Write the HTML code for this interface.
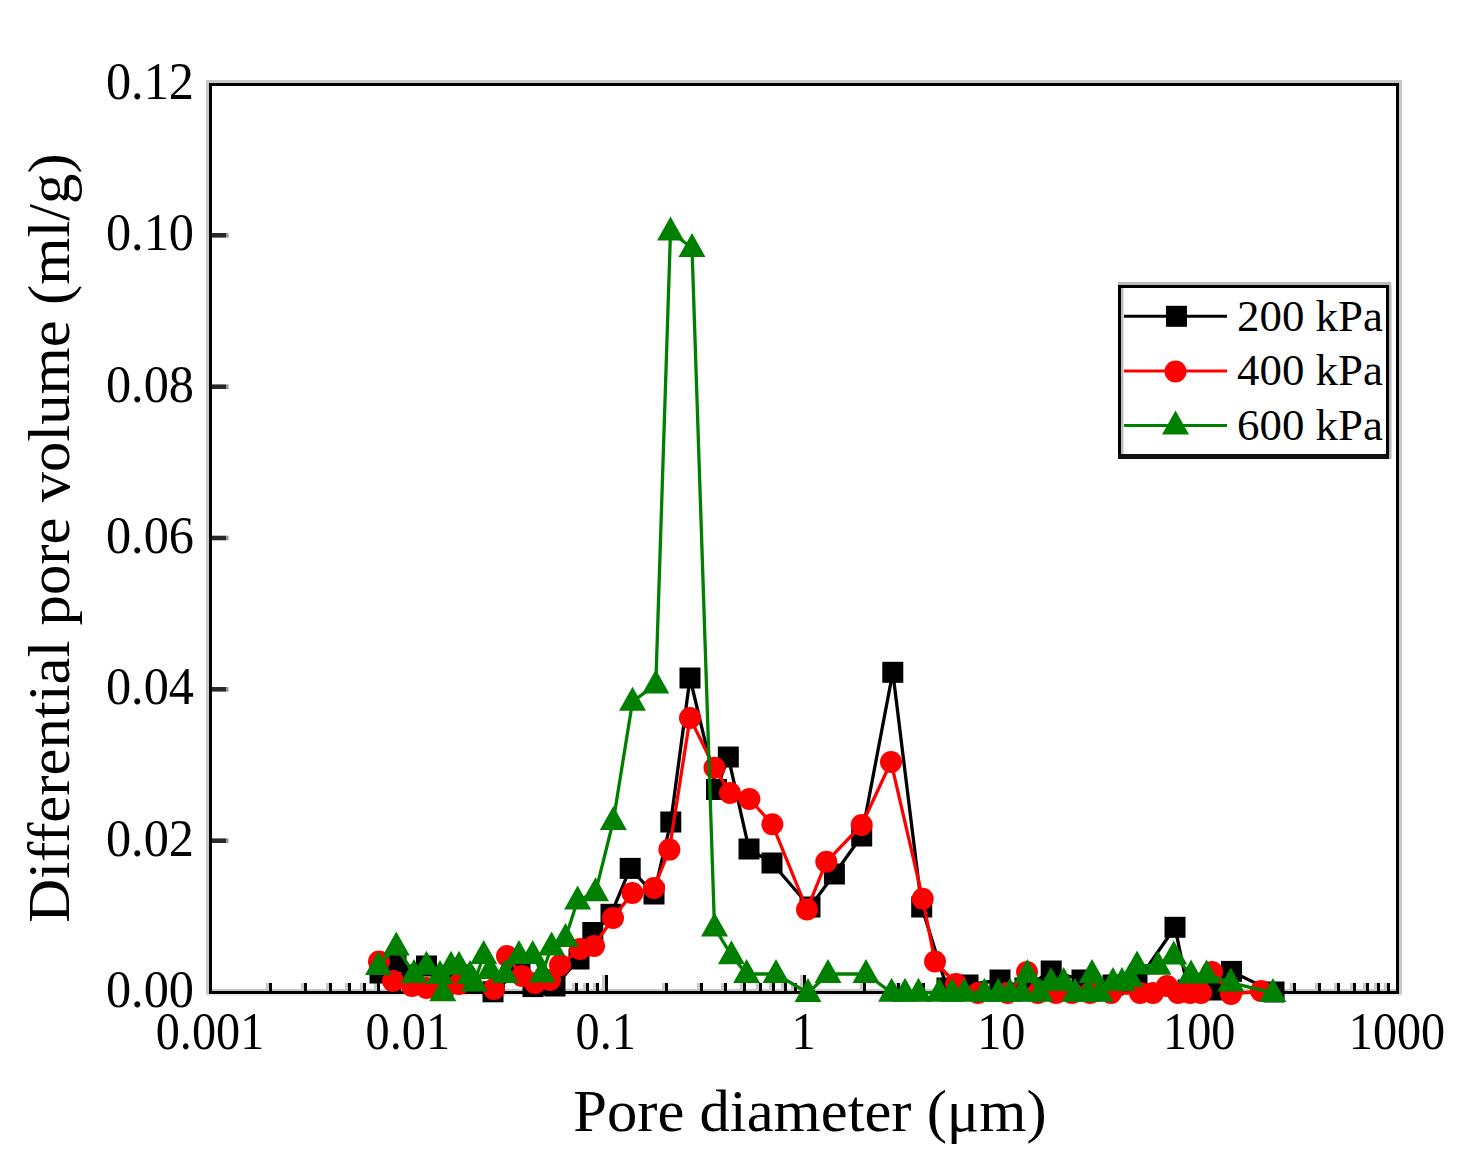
<!DOCTYPE html>
<html><head><meta charset="utf-8"><style>
html,body{margin:0;padding:0;background:#fff;overflow:hidden;}
svg{display:block;}
text{font-family:"Liberation Serif",serif;fill:#000;}
</style></head><body>
<svg width="1470" height="1157" viewBox="0 0 1470 1157">
<rect width="1470" height="1157" fill="#fff"/>
<g id="frame">
<rect x="206" y="80" width="1196" height="3" fill="#c8c8c8"/>
<rect x="206" y="83" width="3" height="911" fill="#c8c8c8"/>
<rect x="1399" y="83" width="3" height="911" fill="#c8c8c8"/>
<rect x="212" y="989" width="1184" height="2" fill="#c8c8c8"/>
<rect x="206" y="994" width="1196" height="2" fill="#ececec"/>
<rect x="212" y="838.4" width="14" height="4.6" fill="#2a2a2a"/><rect x="226" y="838.4" width="2.6" height="4.6" fill="#999"/>
<rect x="212" y="687.0" width="14" height="4.6" fill="#2a2a2a"/><rect x="226" y="687.0" width="2.6" height="4.6" fill="#999"/>
<rect x="212" y="535.7" width="14" height="4.6" fill="#2a2a2a"/><rect x="226" y="535.7" width="2.6" height="4.6" fill="#999"/>
<rect x="212" y="384.4" width="14" height="4.6" fill="#2a2a2a"/><rect x="226" y="384.4" width="2.6" height="4.6" fill="#999"/>
<rect x="212" y="233.0" width="14" height="4.6" fill="#2a2a2a"/><rect x="226" y="233.0" width="2.6" height="4.6" fill="#999"/>
<rect x="266" y="983" width="3" height="8" fill="#c8c8c8"/><rect x="269" y="983" width="3" height="8" fill="#000"/>
<rect x="301" y="983" width="3" height="8" fill="#c8c8c8"/><rect x="304" y="983" width="3" height="8" fill="#000"/>
<rect x="326" y="983" width="3" height="8" fill="#c8c8c8"/><rect x="329" y="983" width="3" height="8" fill="#000"/>
<rect x="345" y="983" width="3" height="8" fill="#c8c8c8"/><rect x="348" y="983" width="3" height="8" fill="#000"/>
<rect x="360" y="983" width="3" height="8" fill="#c8c8c8"/><rect x="363" y="983" width="3" height="8" fill="#000"/>
<rect x="374" y="983" width="3" height="8" fill="#c8c8c8"/><rect x="377" y="983" width="3" height="8" fill="#000"/>
<rect x="385" y="983" width="3" height="8" fill="#c8c8c8"/><rect x="388" y="983" width="3" height="8" fill="#000"/>
<rect x="395" y="983" width="3" height="8" fill="#c8c8c8"/><rect x="398" y="983" width="3" height="8" fill="#000"/>
<rect x="404" y="975" width="3" height="16" fill="#c8c8c8"/><rect x="407" y="975" width="3" height="16" fill="#000"/>
<rect x="464" y="983" width="3" height="8" fill="#c8c8c8"/><rect x="467" y="983" width="3" height="8" fill="#000"/>
<rect x="499" y="983" width="3" height="8" fill="#c8c8c8"/><rect x="502" y="983" width="3" height="8" fill="#000"/>
<rect x="523" y="983" width="3" height="8" fill="#c8c8c8"/><rect x="526" y="983" width="3" height="8" fill="#000"/>
<rect x="543" y="983" width="3" height="8" fill="#c8c8c8"/><rect x="546" y="983" width="3" height="8" fill="#000"/>
<rect x="558" y="983" width="3" height="8" fill="#c8c8c8"/><rect x="561" y="983" width="3" height="8" fill="#000"/>
<rect x="572" y="983" width="3" height="8" fill="#c8c8c8"/><rect x="575" y="983" width="3" height="8" fill="#000"/>
<rect x="583" y="983" width="3" height="8" fill="#c8c8c8"/><rect x="586" y="983" width="3" height="8" fill="#000"/>
<rect x="593" y="983" width="3" height="8" fill="#c8c8c8"/><rect x="596" y="983" width="3" height="8" fill="#000"/>
<rect x="602" y="975" width="3" height="16" fill="#c8c8c8"/><rect x="605" y="975" width="3" height="16" fill="#000"/>
<rect x="662" y="983" width="3" height="8" fill="#c8c8c8"/><rect x="665" y="983" width="3" height="8" fill="#000"/>
<rect x="697" y="983" width="3" height="8" fill="#c8c8c8"/><rect x="700" y="983" width="3" height="8" fill="#000"/>
<rect x="721" y="983" width="3" height="8" fill="#c8c8c8"/><rect x="724" y="983" width="3" height="8" fill="#000"/>
<rect x="740" y="983" width="3" height="8" fill="#c8c8c8"/><rect x="743" y="983" width="3" height="8" fill="#000"/>
<rect x="756" y="983" width="3" height="8" fill="#c8c8c8"/><rect x="759" y="983" width="3" height="8" fill="#000"/>
<rect x="769" y="983" width="3" height="8" fill="#c8c8c8"/><rect x="772" y="983" width="3" height="8" fill="#000"/>
<rect x="781" y="983" width="3" height="8" fill="#c8c8c8"/><rect x="784" y="983" width="3" height="8" fill="#000"/>
<rect x="791" y="983" width="3" height="8" fill="#c8c8c8"/><rect x="794" y="983" width="3" height="8" fill="#000"/>
<rect x="800" y="975" width="3" height="16" fill="#c8c8c8"/><rect x="803" y="975" width="3" height="16" fill="#000"/>
<rect x="860" y="983" width="3" height="8" fill="#c8c8c8"/><rect x="863" y="983" width="3" height="8" fill="#000"/>
<rect x="894" y="983" width="3" height="8" fill="#c8c8c8"/><rect x="897" y="983" width="3" height="8" fill="#000"/>
<rect x="919" y="983" width="3" height="8" fill="#c8c8c8"/><rect x="922" y="983" width="3" height="8" fill="#000"/>
<rect x="938" y="983" width="3" height="8" fill="#c8c8c8"/><rect x="941" y="983" width="3" height="8" fill="#000"/>
<rect x="954" y="983" width="3" height="8" fill="#c8c8c8"/><rect x="957" y="983" width="3" height="8" fill="#000"/>
<rect x="967" y="983" width="3" height="8" fill="#c8c8c8"/><rect x="970" y="983" width="3" height="8" fill="#000"/>
<rect x="979" y="983" width="3" height="8" fill="#c8c8c8"/><rect x="982" y="983" width="3" height="8" fill="#000"/>
<rect x="989" y="983" width="3" height="8" fill="#c8c8c8"/><rect x="992" y="983" width="3" height="8" fill="#000"/>
<rect x="998" y="975" width="3" height="16" fill="#c8c8c8"/><rect x="1001" y="975" width="3" height="16" fill="#000"/>
<rect x="1057" y="983" width="3" height="8" fill="#c8c8c8"/><rect x="1060" y="983" width="3" height="8" fill="#000"/>
<rect x="1092" y="983" width="3" height="8" fill="#c8c8c8"/><rect x="1095" y="983" width="3" height="8" fill="#000"/>
<rect x="1117" y="983" width="3" height="8" fill="#c8c8c8"/><rect x="1120" y="983" width="3" height="8" fill="#000"/>
<rect x="1136" y="983" width="3" height="8" fill="#c8c8c8"/><rect x="1139" y="983" width="3" height="8" fill="#000"/>
<rect x="1152" y="983" width="3" height="8" fill="#c8c8c8"/><rect x="1155" y="983" width="3" height="8" fill="#000"/>
<rect x="1165" y="983" width="3" height="8" fill="#c8c8c8"/><rect x="1168" y="983" width="3" height="8" fill="#000"/>
<rect x="1176" y="983" width="3" height="8" fill="#c8c8c8"/><rect x="1179" y="983" width="3" height="8" fill="#000"/>
<rect x="1187" y="983" width="3" height="8" fill="#c8c8c8"/><rect x="1190" y="983" width="3" height="8" fill="#000"/>
<rect x="1196" y="975" width="3" height="16" fill="#c8c8c8"/><rect x="1199" y="975" width="3" height="16" fill="#000"/>
<rect x="1255" y="983" width="3" height="8" fill="#c8c8c8"/><rect x="1258" y="983" width="3" height="8" fill="#000"/>
<rect x="1290" y="983" width="3" height="8" fill="#c8c8c8"/><rect x="1293" y="983" width="3" height="8" fill="#000"/>
<rect x="1315" y="983" width="3" height="8" fill="#c8c8c8"/><rect x="1318" y="983" width="3" height="8" fill="#000"/>
<rect x="1334" y="983" width="3" height="8" fill="#c8c8c8"/><rect x="1337" y="983" width="3" height="8" fill="#000"/>
<rect x="1350" y="983" width="3" height="8" fill="#c8c8c8"/><rect x="1353" y="983" width="3" height="8" fill="#000"/>
<rect x="1363" y="983" width="3" height="8" fill="#c8c8c8"/><rect x="1366" y="983" width="3" height="8" fill="#000"/>
<rect x="1374" y="983" width="3" height="8" fill="#c8c8c8"/><rect x="1377" y="983" width="3" height="8" fill="#000"/>
<rect x="1384" y="983" width="3" height="8" fill="#c8c8c8"/><rect x="1387" y="983" width="3" height="8" fill="#000"/>
<rect x="209" y="83" width="1190" height="3" fill="#000"/>
<rect x="209" y="83" width="3" height="911" fill="#000"/>
<rect x="1396" y="83" width="3" height="911" fill="#000"/>
<rect x="209" y="991" width="1190" height="3" fill="#000"/>
</g>
<g>
<polyline fill="none" stroke="#000" stroke-width="3.3" stroke-linejoin="round" points="380.0,973.0 396.0,961.5 411.0,975.0 426.5,966.0 443.0,985.0 459.0,975.0 493.0,991.8 520.0,970.0 533.0,986.6 545.0,985.0 555.0,986.0 579.0,959.0 592.8,932.5 611.0,914.3 630.2,868.4 654.0,894.0 670.8,822.0 690.0,678.0 716.5,789.5 728.3,757.0 749.0,849.0 772.0,863.0 810.0,907.0 834.4,874.0 861.7,836.0 892.8,672.3 921.7,907.0 947.0,988.0 968.0,985.0 1000.0,980.0 1025.0,988.0 1051.2,971.0 1082.0,980.0 1113.0,985.0 1137.0,982.0 1175.0,927.3 1188.0,990.0 1212.0,990.0 1231.5,971.4 1274.0,992.0"/>
<rect x="369.5" y="962.5" width="21" height="21" fill="#000"/>
<rect x="385.5" y="951.0" width="21" height="21" fill="#000"/>
<rect x="400.5" y="964.5" width="21" height="21" fill="#000"/>
<rect x="416.0" y="955.5" width="21" height="21" fill="#000"/>
<rect x="432.5" y="974.5" width="21" height="21" fill="#000"/>
<rect x="448.5" y="964.5" width="21" height="21" fill="#000"/>
<rect x="482.5" y="981.3" width="21" height="21" fill="#000"/>
<rect x="509.5" y="959.5" width="21" height="21" fill="#000"/>
<rect x="522.5" y="976.1" width="21" height="21" fill="#000"/>
<rect x="534.5" y="974.5" width="21" height="21" fill="#000"/>
<rect x="544.5" y="975.5" width="21" height="21" fill="#000"/>
<rect x="568.5" y="948.5" width="21" height="21" fill="#000"/>
<rect x="582.3" y="922.0" width="21" height="21" fill="#000"/>
<rect x="600.5" y="903.8" width="21" height="21" fill="#000"/>
<rect x="619.7" y="857.9" width="21" height="21" fill="#000"/>
<rect x="643.5" y="883.5" width="21" height="21" fill="#000"/>
<rect x="660.3" y="811.5" width="21" height="21" fill="#000"/>
<rect x="679.5" y="667.5" width="21" height="21" fill="#000"/>
<rect x="706.0" y="779.0" width="21" height="21" fill="#000"/>
<rect x="717.8" y="746.5" width="21" height="21" fill="#000"/>
<rect x="738.5" y="838.5" width="21" height="21" fill="#000"/>
<rect x="761.5" y="852.5" width="21" height="21" fill="#000"/>
<rect x="799.5" y="896.5" width="21" height="21" fill="#000"/>
<rect x="823.9" y="863.5" width="21" height="21" fill="#000"/>
<rect x="851.2" y="825.5" width="21" height="21" fill="#000"/>
<rect x="882.3" y="661.8" width="21" height="21" fill="#000"/>
<rect x="911.2" y="896.5" width="21" height="21" fill="#000"/>
<rect x="936.5" y="977.5" width="21" height="21" fill="#000"/>
<rect x="957.5" y="974.5" width="21" height="21" fill="#000"/>
<rect x="989.5" y="969.5" width="21" height="21" fill="#000"/>
<rect x="1014.5" y="977.5" width="21" height="21" fill="#000"/>
<rect x="1040.7" y="960.5" width="21" height="21" fill="#000"/>
<rect x="1071.5" y="969.5" width="21" height="21" fill="#000"/>
<rect x="1102.5" y="974.5" width="21" height="21" fill="#000"/>
<rect x="1126.5" y="971.5" width="21" height="21" fill="#000"/>
<rect x="1164.5" y="916.8" width="21" height="21" fill="#000"/>
<rect x="1177.5" y="979.5" width="21" height="21" fill="#000"/>
<rect x="1201.5" y="979.5" width="21" height="21" fill="#000"/>
<rect x="1221.0" y="960.9" width="21" height="21" fill="#000"/>
<rect x="1263.5" y="981.5" width="21" height="21" fill="#000"/>
<polyline fill="none" stroke="#f00" stroke-width="3.3" stroke-linejoin="round" points="379.0,961.5 393.0,981.0 412.0,986.0 426.5,988.0 443.0,990.0 459.0,984.0 494.0,989.0 507.0,956.0 522.0,976.0 535.0,983.0 550.0,980.0 560.0,965.0 580.0,949.0 594.0,946.0 613.0,918.0 632.4,893.0 654.0,888.0 669.4,849.6 690.0,718.0 714.5,767.7 730.0,793.0 749.4,799.0 772.3,824.3 807.0,909.5 826.3,861.8 861.7,825.0 891.0,762.0 922.7,898.7 935.0,961.5 956.0,984.0 978.0,993.0 1007.6,993.0 1027.0,972.0 1037.8,993.0 1056.0,993.0 1072.0,993.0 1090.0,993.0 1111.0,993.0 1140.0,993.0 1153.0,993.0 1167.0,986.0 1178.0,993.0 1190.0,993.0 1201.0,993.0 1212.0,972.0 1231.0,994.0 1261.0,991.0"/>
<circle cx="379.0" cy="961.5" r="11" fill="#f00"/>
<circle cx="393.0" cy="981.0" r="11" fill="#f00"/>
<circle cx="412.0" cy="986.0" r="11" fill="#f00"/>
<circle cx="426.5" cy="988.0" r="11" fill="#f00"/>
<circle cx="443.0" cy="990.0" r="11" fill="#f00"/>
<circle cx="459.0" cy="984.0" r="11" fill="#f00"/>
<circle cx="494.0" cy="989.0" r="11" fill="#f00"/>
<circle cx="507.0" cy="956.0" r="11" fill="#f00"/>
<circle cx="522.0" cy="976.0" r="11" fill="#f00"/>
<circle cx="535.0" cy="983.0" r="11" fill="#f00"/>
<circle cx="550.0" cy="980.0" r="11" fill="#f00"/>
<circle cx="560.0" cy="965.0" r="11" fill="#f00"/>
<circle cx="580.0" cy="949.0" r="11" fill="#f00"/>
<circle cx="594.0" cy="946.0" r="11" fill="#f00"/>
<circle cx="613.0" cy="918.0" r="11" fill="#f00"/>
<circle cx="632.4" cy="893.0" r="11" fill="#f00"/>
<circle cx="654.0" cy="888.0" r="11" fill="#f00"/>
<circle cx="669.4" cy="849.6" r="11" fill="#f00"/>
<circle cx="690.0" cy="718.0" r="11" fill="#f00"/>
<circle cx="714.5" cy="767.7" r="11" fill="#f00"/>
<circle cx="730.0" cy="793.0" r="11" fill="#f00"/>
<circle cx="749.4" cy="799.0" r="11" fill="#f00"/>
<circle cx="772.3" cy="824.3" r="11" fill="#f00"/>
<circle cx="807.0" cy="909.5" r="11" fill="#f00"/>
<circle cx="826.3" cy="861.8" r="11" fill="#f00"/>
<circle cx="861.7" cy="825.0" r="11" fill="#f00"/>
<circle cx="891.0" cy="762.0" r="11" fill="#f00"/>
<circle cx="922.7" cy="898.7" r="11" fill="#f00"/>
<circle cx="935.0" cy="961.5" r="11" fill="#f00"/>
<circle cx="956.0" cy="984.0" r="11" fill="#f00"/>
<circle cx="978.0" cy="993.0" r="11" fill="#f00"/>
<circle cx="1007.6" cy="993.0" r="11" fill="#f00"/>
<circle cx="1027.0" cy="972.0" r="11" fill="#f00"/>
<circle cx="1037.8" cy="993.0" r="11" fill="#f00"/>
<circle cx="1056.0" cy="993.0" r="11" fill="#f00"/>
<circle cx="1072.0" cy="993.0" r="11" fill="#f00"/>
<circle cx="1090.0" cy="993.0" r="11" fill="#f00"/>
<circle cx="1111.0" cy="993.0" r="11" fill="#f00"/>
<circle cx="1140.0" cy="993.0" r="11" fill="#f00"/>
<circle cx="1153.0" cy="993.0" r="11" fill="#f00"/>
<circle cx="1167.0" cy="986.0" r="11" fill="#f00"/>
<circle cx="1178.0" cy="993.0" r="11" fill="#f00"/>
<circle cx="1190.0" cy="993.0" r="11" fill="#f00"/>
<circle cx="1201.0" cy="993.0" r="11" fill="#f00"/>
<circle cx="1212.0" cy="972.0" r="11" fill="#f00"/>
<circle cx="1231.0" cy="994.0" r="11" fill="#f00"/>
<circle cx="1261.0" cy="991.0" r="11" fill="#f00"/>
<polyline fill="none" stroke="#008000" stroke-width="3.3" stroke-linejoin="round" points="378.5,966.0 396.3,946.6 414.0,974.0 426.5,965.7 440.0,975.0 442.8,992.3 451.0,965.7 459.0,965.7 470.0,975.0 474.4,982.4 483.7,955.0 490.0,970.0 505.0,974.0 519.0,955.0 532.7,955.0 542.3,973.5 551.6,946.6 565.5,938.0 577.6,900.5 595.5,892.3 613.3,821.0 632.5,701.7 655.8,684.5 670.5,231.5 692.0,248.0 714.5,927.5 731.4,955.3 746.6,974.0 776.0,974.0 808.0,993.0 828.0,974.0 866.0,974.0 891.6,992.7 905.0,992.7 918.5,992.7 939.4,992.7 952.0,992.7 964.3,992.7 984.3,992.7 998.3,992.7 1010.0,992.7 1022.0,992.7 1027.4,974.0 1040.0,992.7 1051.0,982.0 1063.7,982.0 1075.0,992.7 1088.0,992.7 1092.0,974.0 1100.0,992.7 1113.0,982.0 1122.0,982.0 1130.0,978.0 1137.0,965.6 1158.0,965.7 1173.7,955.5 1191.0,974.4 1206.5,974.4 1230.7,982.6 1272.9,993.0"/>
<polygon points="378.5,951.0 392.0,975.0 365.0,975.0" fill="#008000"/>
<polygon points="396.3,931.6 409.8,955.6 382.8,955.6" fill="#008000"/>
<polygon points="414.0,959.0 427.5,983.0 400.5,983.0" fill="#008000"/>
<polygon points="426.5,950.7 440.0,974.7 413.0,974.7" fill="#008000"/>
<polygon points="440.0,960.0 453.5,984.0 426.5,984.0" fill="#008000"/>
<polygon points="442.8,977.3 456.3,1001.3 429.3,1001.3" fill="#008000"/>
<polygon points="451.0,950.7 464.5,974.7 437.5,974.7" fill="#008000"/>
<polygon points="459.0,950.7 472.5,974.7 445.5,974.7" fill="#008000"/>
<polygon points="470.0,960.0 483.5,984.0 456.5,984.0" fill="#008000"/>
<polygon points="474.4,967.4 487.9,991.4 460.9,991.4" fill="#008000"/>
<polygon points="483.7,940.0 497.2,964.0 470.2,964.0" fill="#008000"/>
<polygon points="490.0,955.0 503.5,979.0 476.5,979.0" fill="#008000"/>
<polygon points="505.0,959.0 518.5,983.0 491.5,983.0" fill="#008000"/>
<polygon points="519.0,940.0 532.5,964.0 505.5,964.0" fill="#008000"/>
<polygon points="532.7,940.0 546.2,964.0 519.2,964.0" fill="#008000"/>
<polygon points="542.3,958.5 555.8,982.5 528.8,982.5" fill="#008000"/>
<polygon points="551.6,931.6 565.1,955.6 538.1,955.6" fill="#008000"/>
<polygon points="565.5,923.0 579.0,947.0 552.0,947.0" fill="#008000"/>
<polygon points="577.6,885.5 591.1,909.5 564.1,909.5" fill="#008000"/>
<polygon points="595.5,877.3 609.0,901.3 582.0,901.3" fill="#008000"/>
<polygon points="613.3,806.0 626.8,830.0 599.8,830.0" fill="#008000"/>
<polygon points="632.5,686.7 646.0,710.7 619.0,710.7" fill="#008000"/>
<polygon points="655.8,669.5 669.3,693.5 642.3,693.5" fill="#008000"/>
<polygon points="670.5,216.5 684.0,240.5 657.0,240.5" fill="#008000"/>
<polygon points="692.0,233.0 705.5,257.0 678.5,257.0" fill="#008000"/>
<polygon points="714.5,912.5 728.0,936.5 701.0,936.5" fill="#008000"/>
<polygon points="731.4,940.3 744.9,964.3 717.9,964.3" fill="#008000"/>
<polygon points="746.6,959.0 760.1,983.0 733.1,983.0" fill="#008000"/>
<polygon points="776.0,959.0 789.5,983.0 762.5,983.0" fill="#008000"/>
<polygon points="808.0,978.0 821.5,1002.0 794.5,1002.0" fill="#008000"/>
<polygon points="828.0,959.0 841.5,983.0 814.5,983.0" fill="#008000"/>
<polygon points="866.0,959.0 879.5,983.0 852.5,983.0" fill="#008000"/>
<polygon points="891.6,977.7 905.1,1001.7 878.1,1001.7" fill="#008000"/>
<polygon points="905.0,977.7 918.5,1001.7 891.5,1001.7" fill="#008000"/>
<polygon points="918.5,977.7 932.0,1001.7 905.0,1001.7" fill="#008000"/>
<polygon points="939.4,977.7 952.9,1001.7 925.9,1001.7" fill="#008000"/>
<polygon points="952.0,977.7 965.5,1001.7 938.5,1001.7" fill="#008000"/>
<polygon points="964.3,977.7 977.8,1001.7 950.8,1001.7" fill="#008000"/>
<polygon points="984.3,977.7 997.8,1001.7 970.8,1001.7" fill="#008000"/>
<polygon points="998.3,977.7 1011.8,1001.7 984.8,1001.7" fill="#008000"/>
<polygon points="1010.0,977.7 1023.5,1001.7 996.5,1001.7" fill="#008000"/>
<polygon points="1022.0,977.7 1035.5,1001.7 1008.5,1001.7" fill="#008000"/>
<polygon points="1027.4,959.0 1040.9,983.0 1013.9,983.0" fill="#008000"/>
<polygon points="1040.0,977.7 1053.5,1001.7 1026.5,1001.7" fill="#008000"/>
<polygon points="1051.0,967.0 1064.5,991.0 1037.5,991.0" fill="#008000"/>
<polygon points="1063.7,967.0 1077.2,991.0 1050.2,991.0" fill="#008000"/>
<polygon points="1075.0,977.7 1088.5,1001.7 1061.5,1001.7" fill="#008000"/>
<polygon points="1088.0,977.7 1101.5,1001.7 1074.5,1001.7" fill="#008000"/>
<polygon points="1092.0,959.0 1105.5,983.0 1078.5,983.0" fill="#008000"/>
<polygon points="1100.0,977.7 1113.5,1001.7 1086.5,1001.7" fill="#008000"/>
<polygon points="1113.0,967.0 1126.5,991.0 1099.5,991.0" fill="#008000"/>
<polygon points="1122.0,967.0 1135.5,991.0 1108.5,991.0" fill="#008000"/>
<polygon points="1130.0,963.0 1143.5,987.0 1116.5,987.0" fill="#008000"/>
<polygon points="1137.0,950.6 1150.5,974.6 1123.5,974.6" fill="#008000"/>
<polygon points="1158.0,950.7 1171.5,974.7 1144.5,974.7" fill="#008000"/>
<polygon points="1173.7,940.5 1187.2,964.5 1160.2,964.5" fill="#008000"/>
<polygon points="1191.0,959.4 1204.5,983.4 1177.5,983.4" fill="#008000"/>
<polygon points="1206.5,959.4 1220.0,983.4 1193.0,983.4" fill="#008000"/>
<polygon points="1230.7,967.6 1244.2,991.6 1217.2,991.6" fill="#008000"/>
<polygon points="1272.9,978.0 1286.4,1002.0 1259.4,1002.0" fill="#008000"/>
</g>
<g font-size="53"><text transform="translate(194,1007.0) scale(0.95,1)" text-anchor="end">0.00</text><text transform="translate(194,855.7) scale(0.95,1)" text-anchor="end">0.02</text><text transform="translate(194,704.3) scale(0.95,1)" text-anchor="end">0.04</text><text transform="translate(194,553.0) scale(0.95,1)" text-anchor="end">0.06</text><text transform="translate(194,401.7) scale(0.95,1)" text-anchor="end">0.08</text><text transform="translate(194,250.3) scale(0.95,1)" text-anchor="end">0.10</text><text transform="translate(194,99.0) scale(0.95,1)" text-anchor="end">0.12</text></g>
<g font-size="53"><text transform="translate(210.0,1049) scale(0.91,1)" text-anchor="middle">0.001</text><text transform="translate(407.8,1049) scale(0.91,1)" text-anchor="middle">0.01</text><text transform="translate(605.7,1049) scale(0.91,1)" text-anchor="middle">0.1</text><text transform="translate(803.5,1049) scale(0.91,1)" text-anchor="middle">1</text><text transform="translate(1001.3,1049) scale(0.91,1)" text-anchor="middle">10</text><text transform="translate(1199.2,1049) scale(0.91,1)" text-anchor="middle">100</text><text transform="translate(1397.0,1049) scale(0.91,1)" text-anchor="middle">1000</text></g>
<text transform="translate(810,1131) scale(1.01,1)" font-size="60" text-anchor="middle">Pore diameter (μm)</text>
<text transform="translate(69,538) rotate(-90) scale(1.012,1)" font-size="60" text-anchor="middle">Differential pore volume (ml/g)</text>
<g>
<rect x="1118" y="282" width="273" height="177" fill="#fff"/>
<rect x="1118" y="282" width="273" height="3" fill="#b8b8b8"/>
<rect x="1389" y="285" width="2.5" height="174" fill="#b8b8b8"/>
<rect x="1121" y="288" width="2.5" height="166" fill="#bbb"/>
<rect x="1118" y="285" width="271" height="3" fill="#000"/>
<rect x="1118" y="285" width="3" height="174" fill="#000"/>
<rect x="1386" y="285" width="3" height="174" fill="#000"/>
<rect x="1118" y="454" width="271" height="5" fill="#111"/>
<line x1="1124" x2="1227" y1="316.3" y2="316.3" stroke="#000" stroke-width="3"/>
<rect x="1166.0" y="305.8" width="21" height="21" fill="#000"/>
<line x1="1124" x2="1227" y1="371" y2="371" stroke="#f00" stroke-width="3"/>
<circle cx="1175.5" cy="371.5" r="11" fill="#f00"/>
<line x1="1124" x2="1227" y1="425.5" y2="425.5" stroke="#008000" stroke-width="3"/>
<polygon points="1175.5,410.5 1189.0,434.5 1162.0,434.5" fill="#008000"/>
<g font-size="44">
<text transform="translate(1237,331) scale(1.02,1)">200 kPa</text>
<text transform="translate(1237,385) scale(1.02,1)">400 kPa</text>
<text transform="translate(1237,440) scale(1.02,1)">600 kPa</text>
</g>
</g>
</svg>
</body></html>
